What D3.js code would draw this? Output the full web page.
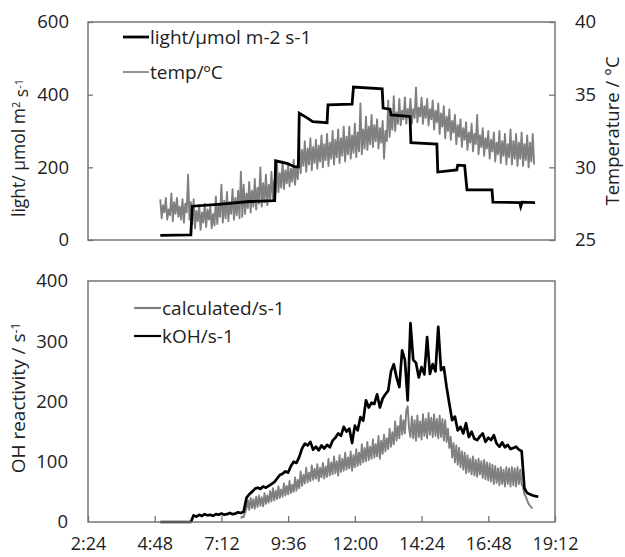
<!DOCTYPE html>
<html>
<head>
<meta charset="utf-8">
<script src="https://cdn.jsdelivr.net/npm/d3@7"></script>
<style>
  body { margin: 0; background: #fff; }
  svg text { font-family: "Open Sans", "DejaVu Sans", sans-serif; fill: #222; }
  .axis path.domain { display: none; }
  .axis line { stroke: #767676; stroke-width: 1.3; }
</style>
</head>
<body>
<div id="chart"></div>
<script>
// time axis (shared by both panels)
const timeTicks = ["2:24", "4:48", "7:12", "9:36", "12:00", "14:24", "16:48", "19:12"];

// top panel: light steps (time, value)
const lightTimes = ["5:00", "6:06", "6:09", "7:12", "8:12", "9:07", "9:09", "9:35", "9:51", "9:58",
  "10:00", "10:17", "10:29", "11:00", "11:02", "11:54", "11:57", "12:59", "13:01", "13:16",
  "13:18", "13:59", "14:01", "14:57", "14:59", "15:40", "15:42", "15:57", "16:02", "16:56",
  "16:58", "17:56", "17:58", "18:01", "18:29"];
const lightValues = [13, 14, 93, 99, 106, 108, 218, 210, 201, 201,
  349, 336, 326, 323, 372, 374, 421, 416, 363, 360,
  344, 340, 268, 264, 187, 193, 206, 205, 138, 138,
  104, 103, 92, 104, 103];

// top panel: temperature, logged every 3 min from 5:00 (one row per hour)
const tempStart = "5:00";
const tempStepMin = 3;
const tempValues = [
  27.8, 26.5, 27.4, 26.9, 27.9, 26.4, 27.1, 26.7, 28.2, 26.3, 27.6, 26.8, 27.9, 26.6, 27.3, 26.4, 27.8, 26.2, 27.5, 26.9,
  29.5, 26.4, 27.6, 26.1, 27.8, 25.8, 27.0, 26.3, 27.4, 25.7, 26.9, 26.2, 27.5, 25.9, 27.1, 26.4, 27.3, 25.8, 26.8, 26.0,
  28.0, 26.1, 27.4, 26.6, 28.8, 26.2, 27.7, 26.5, 28.3, 26.3, 27.6, 26.8, 28.5, 26.4, 27.9, 26.7, 28.4, 26.5, 29.7, 26.6,
  28.8, 26.8, 28.2, 27.2, 29.0, 26.9, 28.4, 27.3, 29.2, 27.1, 28.6, 27.5, 30.0, 27.3, 28.9, 27.6, 29.5, 27.4, 28.8, 27.8,
  29.7, 27.7, 29.1, 28.2, 30.3, 28.3, 29.6, 28.6, 30.4, 28.5, 29.8, 28.9, 30.2, 28.7, 29.9, 29.0, 30.5, 28.8, 30.1, 29.2,
  31.9, 29.6, 31.2, 30.1, 31.8, 29.7, 31.3, 30.2, 32.0, 29.8, 31.4, 30.3, 31.9, 29.9, 31.5, 30.4, 32.2, 30.0, 31.6, 30.5,
  32.3, 30.1, 31.7, 30.6, 32.5, 30.2, 31.9, 30.7, 32.6, 30.3, 32.0, 30.8, 32.8, 30.4, 32.1, 30.9, 32.8, 30.6, 32.2, 31.0,
  33.0, 30.7, 32.4, 31.1, 34.4, 30.9, 32.6, 31.3, 33.5, 31.2, 32.8, 31.6, 33.6, 31.4, 32.9, 31.8, 33.3, 31.3, 32.7, 31.7,
  33.2, 30.6, 32.5, 31.8, 34.6, 32.1, 33.6, 32.6, 34.9, 32.5, 33.8, 33.0, 34.7, 32.9, 33.9, 33.3, 34.8, 33.0, 34.0, 33.4,
  34.7, 33.0, 34.0, 33.4, 35.5, 33.1, 34.1, 33.5, 34.8, 33.0, 34.2, 33.4, 34.7, 32.9, 34.0, 33.3, 34.6, 32.6, 33.9, 33.1,
  34.4, 32.3, 33.7, 32.8, 34.2, 32.0, 33.5, 32.5, 34.0, 31.9, 33.2, 32.4, 33.6, 31.6, 32.9, 32.1, 33.3, 31.4, 32.7, 31.9,
  33.1, 31.2, 32.4, 31.7, 33.0, 31.1, 32.3, 31.6, 33.6, 30.9, 32.2, 31.4, 32.7, 30.8, 32.0, 31.3, 32.5, 30.6, 31.9, 31.1,
  32.4, 30.4, 31.7, 30.9, 32.5, 30.3, 31.8, 30.8, 32.3, 30.2, 31.6, 30.7, 32.6, 30.2, 31.8, 30.6, 32.3, 30.1, 31.7, 30.6,
  32.4, 30.1, 31.6, 30.5, 32.2, 30.0, 31.7, 30.4, 32.3, 30.2
];

// bottom panel: measured kOH, every 6 min from 5:00
const kohStart = "5:00";
const kohStepMin = 6;
const kohValues = [
  0, 0, 0, 0, 0, 0, 0, 0, 0, 0,
  0, 0, 11, 9, 12, 10, 13, 11, 12, 10,
  13, 12, 14, 12, 13, 15, 13, 14, 16, 15,
  17, 40, 46, 50, 55, 57, 55, 59, 57, 60,
  63, 66, 72, 78, 80, 84, 82, 93, 100, 98,
  108, 122, 130, 127, 133, 120, 125, 119, 127, 122,
  128, 124, 135, 140, 147, 143, 158, 150, 155, 131,
  160, 152, 174, 168, 202, 190, 198, 196, 212, 190,
  205, 212, 218, 250, 262, 240, 224, 285, 269, 202,
  330, 269, 264, 240, 257, 245, 307, 246, 262, 250,
  324, 252, 257, 224, 196, 169, 175, 152, 158, 147,
  164, 141, 150, 138, 136, 142, 147, 133, 140, 136,
  144, 130, 125, 132, 124, 128, 121, 123, 125, 120,
  118, 56, 48, 46, 44, 43, 42
];

// bottom panel: calculated reactivity, every 3 min from 7:54 (rows = hours 8..17)
const calcStart = "7:54";
const calcStepMin = 3;
const calcValues = [
  6, 9,
  8, 16, 22, 36, 20, 40, 23, 38, 22, 42, 25, 44, 27, 41, 26, 48, 30, 44, 32, 51,
  34, 56, 36, 52, 38, 59, 40, 54, 42, 64, 44, 60, 46, 68, 48, 62, 50, 74, 52, 70,
  56, 84, 60, 78, 64, 90, 66, 82, 68, 94, 70, 88, 72, 96, 68, 90, 74, 98, 72, 92,
  75, 105, 77, 99, 79, 109, 81, 101, 77, 111, 83, 105, 85, 115, 87, 107, 89, 117, 85, 111,
  91, 121, 93, 115, 95, 129, 99, 123, 101, 133, 103, 125, 105, 137, 107, 129, 109, 143, 105, 135,
  113, 145, 117, 139, 121, 155, 125, 149, 129, 167, 135, 159, 139, 177, 145, 169, 147, 185, 192, 155,
  141, 175, 139, 169, 135, 177, 141, 167, 137, 179, 143, 171, 139, 181, 145, 173, 141, 179, 143, 171,
  139, 177, 141, 171, 135, 169, 133, 155, 123, 141, 107, 131, 99, 127, 95, 123, 91, 117, 87, 115,
  81, 111, 83, 105, 79, 109, 77, 103, 75, 105, 79, 101, 73, 103, 71, 99, 69, 97, 67, 95,
  63, 93, 65, 89, 61, 91, 63, 87, 59, 91, 63, 89, 59, 91, 61, 89, 59, 91, 63, 87,
  62, 58, 46, 42, 36, 30, 27, 24, 23
];

const parseTime = d3.timeParse("%H:%M");

function gridSeries(start, stepMin, values) {
  const t0 = parseTime(start);
  return values.map((v, i) => ({ t: d3.timeMinute.offset(t0, i * stepMin), v: v }));
}

const light = lightTimes.map((s, i) => ({ t: parseTime(s), v: lightValues[i] }));
const temp = gridSeries(tempStart, tempStepMin, tempValues);
const koh = gridSeries(kohStart, kohStepMin, kohValues);
const calc = gridSeries(calcStart, calcStepMin, calcValues);

const width = 625, height = 557;
const plotLeft = 88, plotRight = 555;
const top1 = 22, bottom1 = 240;
const top2 = 281, bottom2 = 522;

const svg = d3.select('#chart').append('svg')
  .attr('width', width)
  .attr('height', height);

const x = d3.scaleTime()
  .domain([parseTime(timeTicks[0]), parseTime(timeTicks[timeTicks.length - 1])])
  .range([plotLeft, plotRight]);

const yLight = d3.scaleLinear().domain([0, 600]).range([bottom1, top1]);
const yTemp = d3.scaleLinear().domain([25, 40]).range([bottom1, top1]);
const yOH = d3.scaleLinear().domain([0, 400]).range([bottom2, top2]);

const black = '#000', grey = '#808080';

// ---- top panel ----
svg.append('g')
  .attr('class', 'axis')
  .attr('transform', `translate(${plotLeft},0)`)
  .call(d3.axisLeft(yLight).tickValues([0, 200, 400, 600]).tickSize(-5).tickPadding(19))
  .selectAll('text').style('font-size', '18.5px');

svg.append('g')
  .attr('class', 'axis')
  .attr('transform', `translate(${plotRight},0)`)
  .call(d3.axisRight(yTemp).tickValues([25, 30, 35, 40]).tickSize(-6).tickPadding(20))
  .selectAll('text').style('font-size', '18.5px');

svg.append('path')
  .datum(temp)
  .attr('fill', 'none')
  .attr('stroke', grey)
  .attr('stroke-width', 1.9)
  .attr('stroke-linejoin', 'round')
  .attr('d', d3.line().x(d => x(d.t)).y(d => yTemp(d.v)));

svg.append('path')
  .datum(light)
  .attr('fill', 'none')
  .attr('stroke', black)
  .attr('stroke-width', 2.8)
  .attr('d', d3.line().x(d => x(d.t)).y(d => yLight(d.v)));

svg.append('rect')
  .attr('x', plotLeft).attr('y', top1)
  .attr('width', plotRight - plotLeft).attr('height', bottom1 - top1)
  .attr('fill', 'none').attr('stroke', '#767676').attr('stroke-width', 1.5);

// legend, top
const leg1 = [
  { label: 'light/μmol m-2 s-1', color: black, w: 2.8, y: 37 },
  { label: 'temp/ºC', color: grey, w: 1.7, y: 72 }
];
leg1.forEach(d => {
  svg.append('line').attr('x1', 123).attr('x2', 149).attr('y1', d.y).attr('y2', d.y)
    .attr('stroke', d.color).attr('stroke-width', d.w);
  svg.append('text').attr('x', 150).attr('y', d.y).attr('dy', '0.35em')
    .style('font-size', '19px').text(d.label);
});

// axis titles, top
const t1 = svg.append('text')
  .attr('transform', 'translate(25,148) rotate(-90)')
  .attr('text-anchor', 'middle')
  .style('font-size', '17.5px');
t1.append('tspan').text('light/ μmol m');
t1.append('tspan').attr('dy', '-0.45em').style('font-size', '11px').text('2');
t1.append('tspan').attr('dy', '0.45em').text(' s');
t1.append('tspan').attr('dy', '-0.45em').style('font-size', '11px').text('-1');

svg.append('text')
  .attr('transform', 'translate(619,131) rotate(-90)')
  .attr('text-anchor', 'middle')
  .style('font-size', '18.5px')
  .text('Temperature / °C');

// ---- bottom panel ----
svg.append('g')
  .attr('class', 'axis')
  .attr('transform', `translate(${plotLeft},0)`)
  .call(d3.axisLeft(yOH).tickValues([0, 100, 200, 300, 400]).tickSize(0).tickPadding(20))
  .selectAll('text').style('font-size', '18.5px');

svg.append('g')
  .attr('class', 'axis')
  .attr('transform', `translate(0,${bottom2})`)
  .call(d3.axisBottom(x).tickValues(timeTicks.map(parseTime))
    .tickFormat(d3.timeFormat('%-H:%M')).tickSize(-6).tickPadding(15))
  .selectAll('text').style('font-size', '18px');

svg.append('path')
  .datum(calc)
  .attr('fill', 'none')
  .attr('stroke', grey)
  .attr('stroke-width', 1.9)
  .attr('stroke-linejoin', 'round')
  .attr('d', d3.line().x(d => x(d.t)).y(d => yOH(d.v)));

svg.append('path')
  .datum(koh)
  .attr('fill', 'none')
  .attr('stroke', black)
  .attr('stroke-width', 2.7)
  .attr('stroke-linejoin', 'round')
  .attr('d', d3.line().x(d => x(d.t)).y(d => yOH(d.v)));

svg.append('rect')
  .attr('x', plotLeft).attr('y', top2)
  .attr('width', plotRight - plotLeft).attr('height', bottom2 - top2)
  .attr('fill', 'none').attr('stroke', '#767676').attr('stroke-width', 1.5);

const leg2 = [
  { label: 'calculated/s-1', color: grey, w: 2.2, y: 308 },
  { label: 'kOH/s-1', color: black, w: 2.2, y: 336 }
];
leg2.forEach(d => {
  svg.append('line').attr('x1', 134).attr('x2', 161).attr('y1', d.y).attr('y2', d.y)
    .attr('stroke', d.color).attr('stroke-width', d.w);
  svg.append('text').attr('x', 162).attr('y', d.y).attr('dy', '0.35em')
    .style('font-size', '19px').text(d.label);
});

const t2 = svg.append('text')
  .attr('transform', 'translate(25,398) rotate(-90)')
  .attr('text-anchor', 'middle')
  .style('font-size', '19px');
t2.append('tspan').text('OH reactivity / s');
t2.append('tspan').attr('dy', '-0.45em').style('font-size', '12px').text('-1');
</script>
</body>
</html>
